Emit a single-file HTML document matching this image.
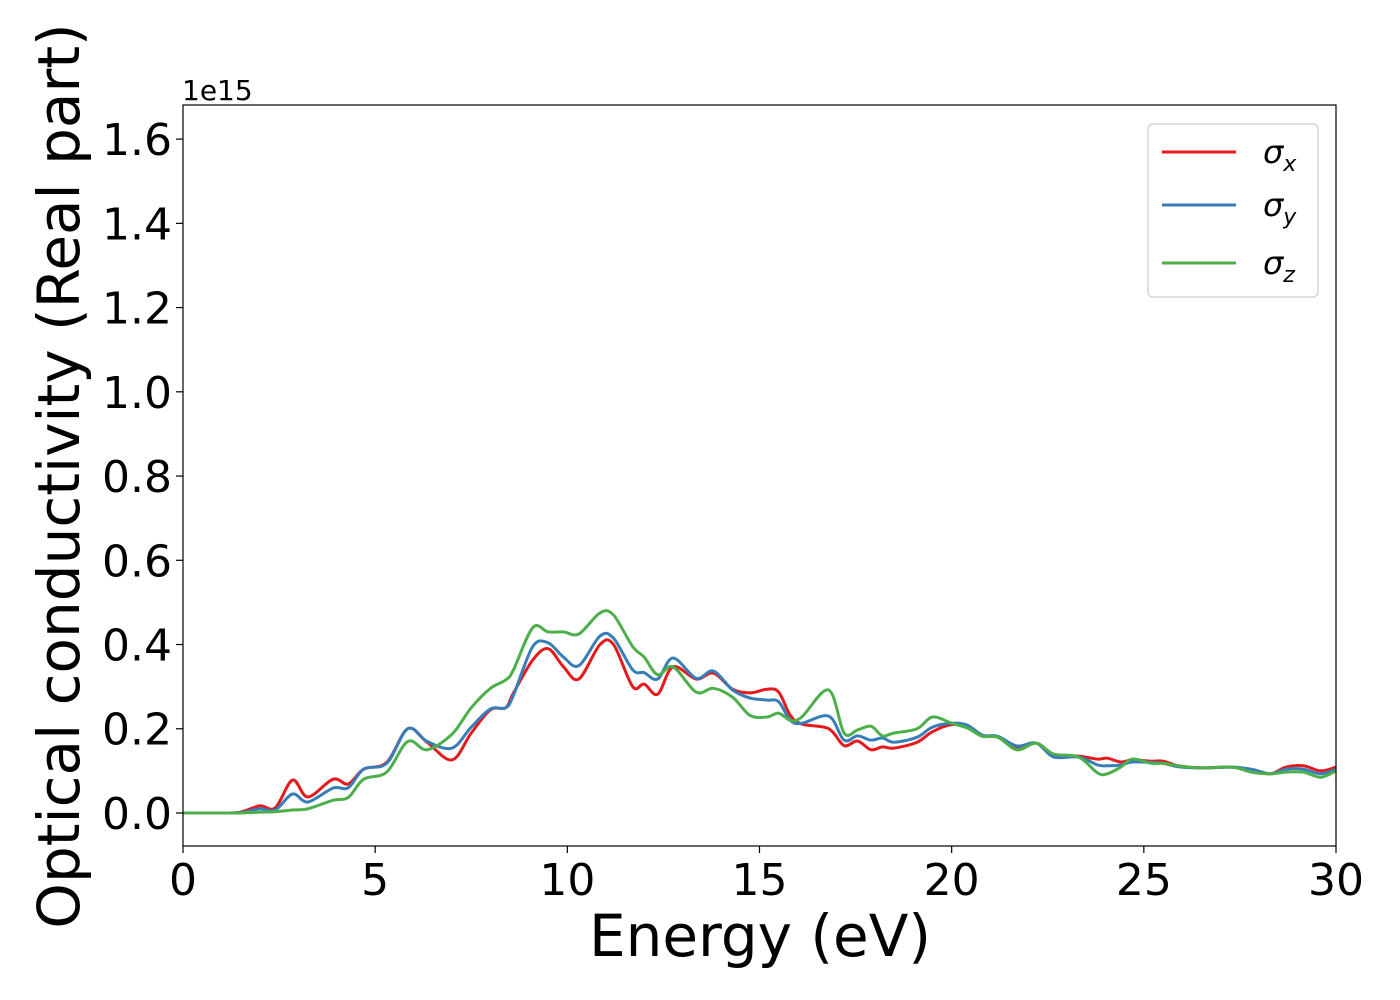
<!DOCTYPE html>
<html><head><meta charset="utf-8"><style>
body{margin:0;background:#fff;}
svg{display:block;font-family:"DejaVu Sans","Liberation Sans",sans-serif;}
</style></head><body>
<svg id="chart" width="1400" height="1000" viewBox="0 0 1400 1000" xmlns="http://www.w3.org/2000/svg">
<rect x="0" y="0" width="1400" height="1000" fill="#fff"/>
<g id="grid-ticks"></g>
<g id="series"></g>
<rect x="183" y="105" width="1153" height="741" fill="none" stroke="#000" stroke-width="1.2"/>
<text x="182" y="100" font-size="28">1e15</text>
<text x="760" y="956" font-size="58" text-anchor="middle">Energy (eV)</text>
<text transform="translate(79,476) rotate(-90)" font-size="58" text-anchor="middle">Optical conductivity (Real part)</text>
<g>
<rect x="1148" y="124" width="170" height="173" rx="5" fill="#fff" stroke="#ccc" stroke-width="1.2"/>
<line x1="1162" y1="152" x2="1236" y2="152" stroke="#e41a1c" stroke-width="3"/>
<text x="1263" y="163" font-size="32" font-style="italic">σ<tspan font-size="22" dy="8">x</tspan></text>
<line x1="1162" y1="205" x2="1236" y2="205" stroke="#377eb8" stroke-width="3"/>
<text x="1263" y="216" font-size="32" font-style="italic">σ<tspan font-size="22" dy="8">y</tspan></text>
<line x1="1162" y1="263" x2="1236" y2="263" stroke="#4daf4a" stroke-width="3"/>
<text x="1263" y="274" font-size="32" font-style="italic">σ<tspan font-size="22" dy="8">z</tspan></text>
</g>
</svg>
<script>
const energies=[0,1,1.5,2,2.4,2.85,3.25,3.9,4.3,4.7,5.3,5.85,6.35,7,7.5,8,8.4,8.6,9.1,9.5,9.9,10.3,10.85,11.2,11.7,12,12.35,12.75,13.35,13.8,14.3,14.75,15.2,15.5,15.8,16.1,16.8,17.2,17.55,17.9,18.2,18.5,19.1,19.5,20,20.4,20.8,21.2,21.7,22.2,22.65,23.3,23.8,24.05,24.4,24.7,25.2,25.5,25.9,26.5,27.3,27.8,28.3,28.7,29.15,29.6,30];
const sigmaX=[0,0,0.002,0.017,0.012,0.078,0.038,0.08,0.069,0.104,0.12,0.2,0.168,0.126,0.19,0.245,0.25,0.285,0.363,0.39,0.347,0.318,0.40,0.40,0.30,0.306,0.282,0.347,0.318,0.332,0.294,0.285,0.294,0.287,0.232,0.211,0.2,0.16,0.171,0.15,0.157,0.154,0.168,0.193,0.21,0.204,0.183,0.18,0.157,0.166,0.138,0.135,0.128,0.13,0.121,0.126,0.123,0.123,0.112,0.107,0.109,0.102,0.093,0.109,0.112,0.1,0.109];
const sigmaY=[0,0,0.001,0.01,0.007,0.045,0.026,0.059,0.06,0.104,0.118,0.2,0.17,0.154,0.204,0.247,0.25,0.28,0.395,0.404,0.37,0.35,0.42,0.415,0.34,0.333,0.318,0.368,0.32,0.337,0.292,0.273,0.268,0.264,0.22,0.213,0.23,0.173,0.183,0.173,0.178,0.168,0.18,0.204,0.213,0.209,0.185,0.182,0.159,0.166,0.133,0.133,0.114,0.112,0.114,0.121,0.12,0.118,0.11,0.107,0.109,0.104,0.093,0.104,0.104,0.093,0.104];
const sigmaZ=[0,0,0,0.002,0.003,0.007,0.01,0.03,0.037,0.08,0.097,0.17,0.15,0.187,0.25,0.296,0.316,0.34,0.44,0.43,0.43,0.425,0.475,0.47,0.395,0.37,0.328,0.347,0.287,0.296,0.275,0.232,0.228,0.237,0.22,0.228,0.292,0.19,0.197,0.206,0.183,0.19,0.2,0.228,0.213,0.202,0.182,0.18,0.15,0.166,0.14,0.133,0.095,0.093,0.109,0.128,0.118,0.118,0.112,0.107,0.109,0.097,0.093,0.097,0.097,0.085,0.1];
const xTicks=[0,5,10,15,20,25,30];
const yTicks=[0,0.2,0.4,0.6,0.8,1.0,1.2,1.4,1.6];
const X0=183,X1=1336,Y0=846,Y1=105,XMIN=0,XMAX=30,YMIN=-0.0784,YMAX=1.681;
const sx=v=>X0+(v-XMIN)/(XMAX-XMIN)*(X1-X0);
const sy=v=>Y0-(v-YMIN)/(YMAX-YMIN)*(Y0-Y1);
const NS="http://www.w3.org/2000/svg";
const gt=document.getElementById('grid-ticks');
xTicks.forEach(t=>{
  const l=document.createElementNS(NS,'line');
  l.setAttribute('x1',sx(t));l.setAttribute('x2',sx(t));l.setAttribute('y1',Y0);l.setAttribute('y2',Y0+7);
  l.setAttribute('stroke','#000');l.setAttribute('stroke-width','1.2');
  
  
  gt.appendChild(l);
  const tx=document.createElementNS(NS,'text');
  tx.setAttribute('x',sx(t));tx.setAttribute('y',895);tx.setAttribute('font-size','44');tx.setAttribute('text-anchor','middle');
  tx.textContent=String(t);
  
  
  gt.appendChild(tx);
});
yTicks.forEach(t=>{
  const l=document.createElementNS(NS,'line');
  l.setAttribute('x1',X0-7);l.setAttribute('x2',X0);l.setAttribute('y1',sy(t));l.setAttribute('y2',sy(t));
  l.setAttribute('stroke','#000');l.setAttribute('stroke-width','1.2');
  
  
  gt.appendChild(l);
  const tx=document.createElementNS(NS,'text');
  tx.setAttribute('x',172);tx.setAttribute('y',sy(t)+16);tx.setAttribute('font-size','44');tx.setAttribute('text-anchor','end');
  tx.textContent=t.toFixed(1);
  
  
  gt.appendChild(tx);
});
function pathFor(vals){
  const p=energies.map((e,i)=>[sx(e),sy(vals[i])]);
  let d='M'+p[0][0].toFixed(1)+','+p[0][1].toFixed(1);
  for(let i=0;i<p.length-1;i++){
    const a=p[i-1]||p[i],b=p[i],c=p[i+1],n=p[i+2]||c;
    const c1=[b[0]+(c[0]-a[0])/6,b[1]+(c[1]-a[1])/6];
    const c2=[c[0]-(n[0]-b[0])/6,c[1]-(n[1]-b[1])/6];
    d+='C'+c1[0].toFixed(1)+','+c1[1].toFixed(1)+' '+c2[0].toFixed(1)+','+c2[1].toFixed(1)+' '+c[0].toFixed(1)+','+c[1].toFixed(1);
  }
  return d;
}
const gs=document.getElementById('series');
[[sigmaX,'#e41a1c','series-sigma-x'],[sigmaY,'#377eb8','series-sigma-y'],[sigmaZ,'#4daf4a','series-sigma-z']].forEach(s=>{
  const pa=document.createElementNS(NS,'path');
  pa.setAttribute('d',pathFor(s[0]));pa.setAttribute('fill','none');pa.setAttribute('stroke',s[1]);pa.setAttribute('stroke-width','3');
  
  
  gs.appendChild(pa);
});
</script>
</body></html>
